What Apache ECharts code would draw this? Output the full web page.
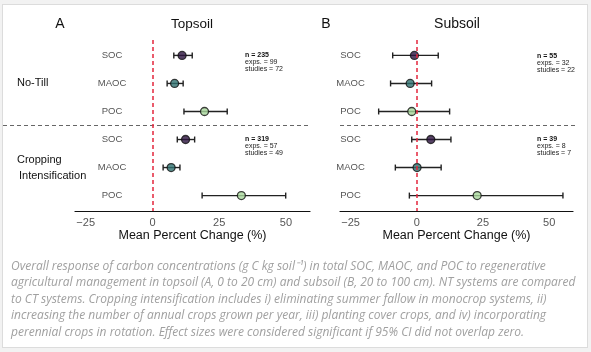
<!DOCTYPE html>
<html>
<head>
<meta charset="utf-8">
<script src="https://cdn.jsdelivr.net/npm/echarts@6/dist/echarts.min.js"></script>
<style>
  body { margin: 0; background: #f2f2f2; }
  #card { position: absolute; left: 2px; top: 4px; width: 584px; height: 342px; background: #fff; border: 1px solid #dcdcdc; }
  #main { position: absolute; left: 0; top: 0; width: 591px; height: 352px; }
</style>
</head>
<body>
<div id="card"></div>
<div id="main"></div>
<script>
"use strict";
// rows top to bottom: No-Till (SOC, MAOC, POC), Cropping Intensification (SOC, MAOC, POC)
const rowLabels = ['SOC', 'MAOC', 'POC', 'SOC', 'MAOC', 'POC'];
const rowPos = [1, 2, 3, 4, 5, 6];
const groups = ['No-Till', 'Cropping\nIntensification'];

// topsoil (A): mean % change and 95% CI
const topMean = [11.1, 8.3, 19.5, 12.4, 7.0, 33.3];
const topLow  = [8.0, 5.5, 11.8, 9.3, 4.0, 18.6];
const topHigh = [14.9, 11.5, 28.0, 15.8, 10.3, 49.9];

// subsoil (B)
const subMean = [-0.9, -2.5, -1.9, 5.3, 0.1, 22.8];
const subLow  = [-9.1, -9.9, -14.4, -1.9, -8.1, -2.8];
const subHigh = [8.1, 5.6, 12.4, 12.9, 9.2, 55.2];

// sample sizes per group
const topN = [235, 319], topExps = [99, 57], topStudies = [72, 49];
const subN = [55, 39],  subExps = [32, 8],  subStudies = [22, 7];

const xTicks = [-25, 0, 25, 50];

const fracColor = { SOC: '#2e1541', MAOC: '#2f7270', POC: '#a9d89c' };

const chart = echarts.init(document.getElementById('main'), null, { renderer: 'canvas' });

const grids = [
  { left: 75, top: 40, width: 235, height: 171 },
  { left: 340, top: 40, width: 233, height: 171 }
];

function xAxisFor(i) {
  return {
    gridIndex: i, type: 'value', min: -29, max: 59,
    axisLine: { lineStyle: { color: '#111', width: 1.2 } },
    axisTick: { show: false },
    splitLine: { show: false },
    axisLabel: {
      customValues: xTicks, color: '#555', fontSize: 11, margin: 6,
      fontFamily: 'Liberation Sans',
      formatter: v => String(v).replace('-', '\u2212')
    },
    name: 'Mean Percent Change (%)', nameLocation: 'middle', nameGap: 18,
    nameTextStyle: { color: '#111', fontSize: 12.5, fontFamily: 'Liberation Sans' }
  };
}

function yAxisFor(i, margin) {
  return {
    gridIndex: i, type: 'value', min: 0.45, max: 6.55, inverse: true,
    axisLine: { show: false }, axisTick: { show: false }, splitLine: { show: false },
    axisLabel: {
      customValues: rowPos, align: 'center', margin: margin,
      color: '#555', fontSize: 9.5, fontFamily: 'Liberation Sans',
      formatter: v => rowLabels[v - 1]
    }
  };
}

function errorSeries(i, low, high) {
  return {
    type: 'custom', xAxisIndex: i, yAxisIndex: i, silent: true,
    data: rowPos.map((p, k) => [low[k], high[k], p]),
    renderItem: function (params, api) {
      const a = api.coord([api.value(0), api.value(2)]);
      const b = api.coord([api.value(1), api.value(2)]);
      const h = 3;
      const st = { stroke: '#222', lineWidth: 1.4 };
      return {
        type: 'group',
        children: [
          { type: 'line', shape: { x1: a[0], y1: a[1], x2: b[0], y2: b[1] }, style: st },
          { type: 'line', shape: { x1: a[0], y1: a[1] - h, x2: a[0], y2: a[1] + h }, style: st },
          { type: 'line', shape: { x1: b[0], y1: b[1] - h, x2: b[0], y2: b[1] + h }, style: st }
        ]
      };
    },
    z: 3
  };
}

function pointSeries(i, mean) {
  return {
    type: 'scatter', xAxisIndex: i, yAxisIndex: i, symbolSize: 8, silent: true,
    data: rowPos.map((p, k) => ({
      value: [mean[k], p],
      itemStyle: { color: fracColor[rowLabels[k]], borderColor: '#111', borderWidth: 1.3 }
    })),
    markLine: {
      silent: true, symbol: 'none', animation: false,
      label: { show: false },
      lineStyle: { color: '#e3263c', type: [4, 3], width: 1.5 },
      data: [{ xAxis: 0 }]
    },
    z: 4
  };
}

chart.setOption({
  animation: false,
  grid: grids,
  xAxis: [xAxisFor(0), xAxisFor(1)],
  yAxis: [yAxisFor(0, -37), yAxisFor(1, -10.5)],
  series: [
    errorSeries(0, topLow, topHigh),
    pointSeries(0, topMean),
    errorSeries(1, subLow, subHigh),
    pointSeries(1, subMean)
  ]
});

// separator between the two groups, at the midpoint of rows 3 and 4
const sepY = chart.convertToPixel({ gridIndex: 0 }, [0, 3.5])[1];
const rowY = rowPos.map(p => chart.convertToPixel({ gridIndex: 0 }, [0, p])[1]);

const sansTitle = { fontFamily: 'Liberation Sans', fill: '#111' };

function statText(x, y, n, e, s) {
  return {
    type: 'text', left: x, top: y, silent: true,
    style: {
      text: '{b|n = ' + n + '}\nexps. = ' + e + '\nstudies = ' + s,
      fontFamily: 'Liberation Sans', fontSize: 7, lineHeight: 7, fill: '#222',
      rich: { b: { fontWeight: 'bold', fontSize: 7, fontFamily: 'Liberation Sans', fill: '#111' } }
    }
  };
}

const caption = [
  'Overall response of carbon concentrations (g C kg soil\u207B\u00B9) in total SOC, MAOC, and POC to regenerative',
  'agricultural management in topsoil (A, 0 to 20 cm) and subsoil (B, 20 to 100 cm). NT systems are compared',
  'to CT systems. Cropping intensification includes i) eliminating summer fallow in monocrop systems, ii)',
  'increasing the number of annual crops grown per year, iii) planting cover crops, and iv) incorporating',
  'perennial crops in rotation. Effect sizes were considered significant if 95% CI did not overlap zero.'
];

chart.setOption({
  graphic: [
    { type: 'text', x: 60, y: 24, style: Object.assign({ text: 'A', fontSize: 14, align: 'center', verticalAlign: 'middle' }, sansTitle) },
    { type: 'text', x: 192, y: 24, style: Object.assign({ text: 'Topsoil', fontSize: 13.5, align: 'center', verticalAlign: 'middle' }, sansTitle) },
    { type: 'text', x: 326, y: 24, style: Object.assign({ text: 'B', fontSize: 14, align: 'center', verticalAlign: 'middle' }, sansTitle) },
    { type: 'text', x: 457, y: 24, style: Object.assign({ text: 'Subsoil', fontSize: 14, align: 'center', verticalAlign: 'middle' }, sansTitle) },
    { type: 'text', x: 17, y: rowY[1], style: Object.assign({ text: groups[0], fontSize: 11, verticalAlign: 'middle' }, sansTitle) },
    { type: 'text', x: 17, y: 160, style: Object.assign({ text: groups[1].split('\n')[0], fontSize: 11, verticalAlign: 'middle' }, sansTitle) },
    { type: 'text', x: 19, y: 176, style: Object.assign({ text: groups[1].split('\n')[1], fontSize: 11, verticalAlign: 'middle' }, sansTitle) },
    { type: 'line', silent: true, shape: { x1: 3, y1: sepY, x2: 310, y2: sepY }, style: { stroke: '#666', lineWidth: 1.2, lineDash: [4, 3] } },
    { type: 'line', silent: true, shape: { x1: 340, y1: sepY, x2: 577, y2: sepY }, style: { stroke: '#666', lineWidth: 1.2, lineDash: [4, 3] } },
    statText(245, 52, topN[0], topExps[0], topStudies[0]),
    statText(245, 135.5, topN[1], topExps[1], topStudies[1]),
    statText(537, 52.5, subN[0], subExps[0], subStudies[0]),
    statText(537, 136, subN[1], subExps[1], subStudies[1]),
    {
      type: 'text', left: 11, top: 258, silent: true,
      style: {
        text: caption.join('\n'), fontFamily: 'Open Sans', fontStyle: 'italic',
        fontSize: 12, lineHeight: 16.5, fill: '#a0a0a0'
      }
    }
  ]
});
</script>
</body>
</html>
